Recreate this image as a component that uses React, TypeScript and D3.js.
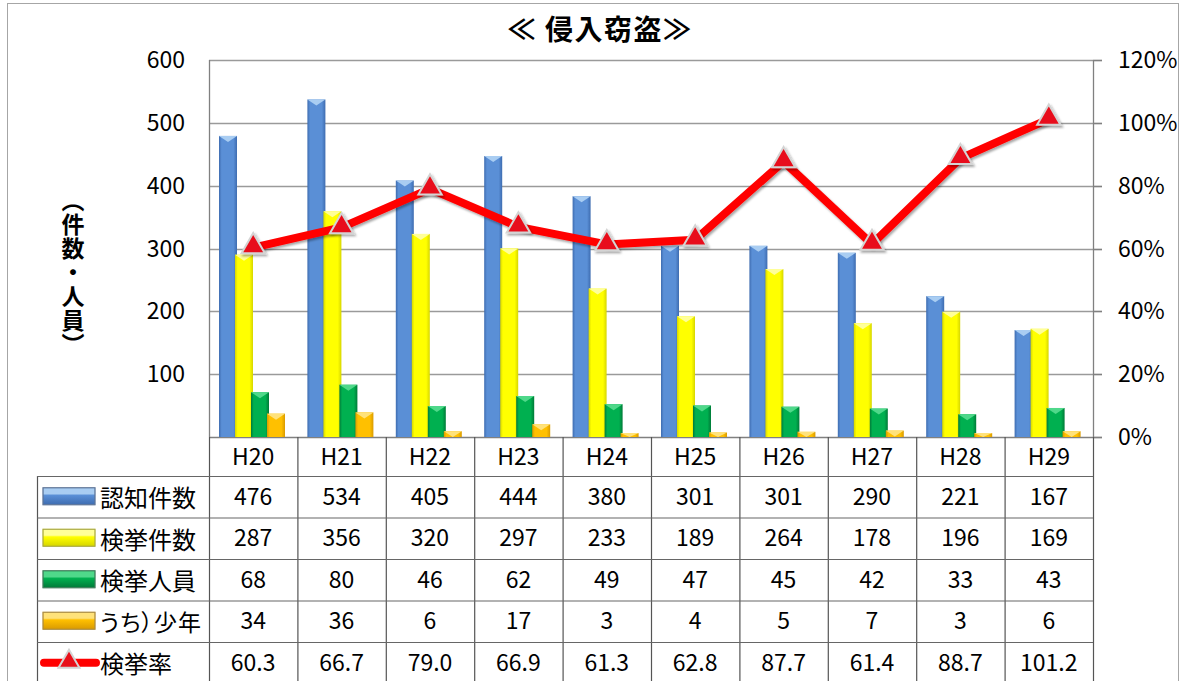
import * as d3 from "d3";

// 侵入窃盗 data
const categories = ["H20", "H21", "H22", "H23", "H24", "H25", "H26", "H27", "H28", "H29"];
const ninchi = [476, 534, 405, 444, 380, 301, 301, 290, 221, 167];
const kenkyoKensu = [287, 356, 320, 297, 233, 189, 264, 178, 196, 169];
const kenkyoJinin = [68, 80, 46, 62, 49, 47, 45, 42, 33, 43];
const shonen = [34, 36, 6, 17, 3, 4, 5, 7, 3, 6];
const kenkyoRitsu = [60.3, 66.7, 79.0, 66.9, 61.3, 62.8, 87.7, 61.4, 88.7, 101.2];
const leftTicks = [100, 200, 300, 400, 500, 600];
const rightTicks = [0, 20, 40, 60, 80, 100, 120];

const barSeries = [
  { key: "ninchi", name: "認知件数", values: ninchi, light: "#a9cdf2", base: "#5a8fd6", dark: "#3e6cb0" },
  { key: "kensu", name: "検挙件数", values: kenkyoKensu, light: "#ffff99", base: "#ffff00", dark: "#d6d600" },
  { key: "jinin", name: "検挙人員", values: kenkyoJinin, light: "#4fd88a", base: "#00b050", dark: "#007a38" },
  { key: "shonen", name: "うち）少年", values: shonen, light: "#ffe27a", base: "#ffc000", dark: "#d99a00" },
];

const W = 1184;
const H = 681;
const font = "'Noto Sans CJK JP', 'Noto Sans', sans-serif";
const dyText = -2;

export default function App() {
  const plot = { left: 209, right: 1093, top: 60, bottom: 437 };
  const x = d3.scaleBand<string>().domain(categories).range([plot.left, plot.right]);
  const xs = d3.scaleBand<string>().domain(barSeries.map(s => s.key)).range([10, 74]);
  const y = d3.scaleLinear().domain([0, 600]).range([plot.bottom, plot.top]);
  const yr = d3.scaleLinear().domain([0, 120]).range([plot.bottom, plot.top]);
  const barW = xs.bandwidth() + 2;

  const line = d3.line<number>()
    .x((_, i) => x(categories[i])! + x.bandwidth() / 2)
    .y(d => yr(d));
  const tri = d3.symbol().type(d3.symbolTriangle).size(235)();
  const triSmall = d3.symbol().type(d3.symbolTriangle).size(190)();

  const tableTop = 476;
  const rowH = 41.5;
  const legendLeft = 37;
  const rows = [...barSeries.map(s => ({ name: s.name, values: s.values.map(String) })),
    { name: "検挙率", values: kenkyoRitsu.map(v => v.toFixed(1)) }];

  return (
    <svg width={W} height={H} style={{ position: "absolute", left: 0, top: 0, background: "#fff" }} fontFamily={font}>
      <defs>
        {barSeries.map(s => (
          <linearGradient key={s.key} id={`g-${s.key}`} x1="0" x2="1" y1="0" y2="0">
            <stop offset="0%" stopColor={s.dark} />
            <stop offset="15%" stopColor={s.base} />
            <stop offset="80%" stopColor={s.base} />
            <stop offset="100%" stopColor={s.dark} />
          </linearGradient>
        ))}
        {barSeries.map(s => (
          <linearGradient key={s.key} id={`l-${s.key}`} x1="0" x2="0" y1="0" y2="1">
            <stop offset="0%" stopColor={s.light} />
            <stop offset="35%" stopColor={s.light} />
            <stop offset="45%" stopColor={s.base} />
            <stop offset="100%" stopColor={s.dark} />
          </linearGradient>
        ))}
        <filter id="shadow" x="-50%" y="-50%" width="200%" height="200%">
          <feDropShadow dx="1.5" dy="2" stdDeviation="1.2" floodColor="#000" floodOpacity="0.35" />
        </filter>
      </defs>

      {/* outer frame */}
      <rect x={7.5} y={3.5} width={1171} height={690} fill="none" stroke="#a6a6a6" />

      {/* title */}
      <text x={600} y={40} textAnchor="middle" fontSize={28} fontWeight="bold" letterSpacing={1.5}>≪ 侵入窃盗≫</text>

      {/* y-axis title */}
      <text x={73} y={273} textAnchor="middle" fontSize={23} fontWeight="bold" letterSpacing={1}
        style={{ writingMode: "vertical-rl" }}>（件数・人員）</text>

      {/* gridlines */}
      {leftTicks.map(t => (
        <line key={t} x1={plot.left} x2={plot.right + 9} y1={Math.round(y(t)) + 0.5} y2={Math.round(y(t)) + 0.5} stroke="#9a9a9a" strokeWidth={1.3} />
      ))}
      <line x1={plot.left} x2={plot.right + 9} y1={plot.bottom + 0.5} y2={plot.bottom + 0.5} stroke="#808080" strokeWidth={1.3} />
      <line x1={plot.left + 0.5} x2={plot.left + 0.5} y1={plot.top} y2={plot.bottom} stroke="#808080" strokeWidth={1.3} />
      <line x1={plot.right + 0.5} x2={plot.right + 0.5} y1={plot.top} y2={plot.bottom} stroke="#808080" strokeWidth={1.3} />
      {rightTicks.map(t => (
        <line key={t} x1={plot.right} x2={plot.right + 9} y1={Math.round(yr(t)) + 0.5} y2={Math.round(yr(t)) + 0.5} stroke="#808080" strokeWidth={1.3} />
      ))}

      {/* left axis labels */}
      {leftTicks.map(t => (
        <text key={t} x={185} y={y(t) + dyText} textAnchor="end" dominantBaseline="central" fontSize={23}>{t}</text>
      ))}
      {/* right axis labels */}
      {rightTicks.map(t => (
        <text key={t} x={1118} y={yr(t) + dyText} dominantBaseline="central" fontSize={23}>{t}%</text>
      ))}

      {/* bars */}
      {barSeries.map(s => (
        <g key={s.key}>
          {s.values.map((v, i) => {
            const bx = x(categories[i])! + xs(s.key)!;
            const top = y(v) - 2;
            const h = plot.bottom - top;
            const th = Math.min(6, h);
            return (
              <g key={i}>
                <rect x={bx} y={top} width={barW} height={h} fill={`url(#g-${s.key})`} />
                <polygon points={`${bx},${top} ${bx + barW},${top} ${bx + barW / 2},${top + th}`} fill={s.light} />
              </g>
            );
          })}
        </g>
      ))}

      {/* rate line */}
      <path d={line(kenkyoRitsu) ?? ""} fill="none" stroke="#ff0000" strokeWidth={8} strokeLinejoin="round" filter="url(#shadow)" />
      {kenkyoRitsu.map((v, i) => (
        <path key={i} d={tri ?? ""} transform={`translate(${x(categories[i])! + x.bandwidth() / 2},${yr(v) - 1})`}
          fill="#e8101a" stroke="#d4d4d4" strokeWidth={2} filter="url(#shadow)" />
      ))}

      {/* data table */}
      <g stroke="#555" strokeWidth={1.2}>
        {categories.map(c => (
          <line key={c} x1={x(c)! + 0.5} x2={x(c)! + 0.5} y1={plot.bottom} y2={H} />
        ))}
        <line x1={plot.right + 0.5} x2={plot.right + 0.5} y1={plot.bottom} y2={H} />
        <line x1={legendLeft + 0.5} x2={legendLeft + 0.5} y1={tableTop} y2={H} />
        {rows.map((_, r) => (
          <line key={r} x1={legendLeft} x2={plot.right} y1={tableTop + r * rowH + 0.5} y2={tableTop + r * rowH + 0.5} stroke="#666" />
        ))}
      </g>
      {categories.map(c => (
        <text key={c} x={x(c)! + x.bandwidth() / 2} y={(plot.bottom + tableTop) / 2 + dyText} textAnchor="middle" dominantBaseline="central" fontSize={23}>{c}</text>
      ))}
      {rows.map((row, r) => {
        const cy = tableTop + r * rowH + rowH / 2;
        const isShonen = row.name === "うち）少年";
        return (
          <g key={row.name}>
            {row.values.map((v, i) => (
              <text key={i} x={x(categories[i])! + x.bandwidth() / 2} y={cy + dyText} textAnchor="middle" dominantBaseline="central" fontSize={23}>{v}</text>
            ))}
            <text x={100} y={cy} dominantBaseline="central" fontSize={isShonen ? 23 : 24}
              style={isShonen ? { fontFeatureSettings: "'palt'", letterSpacing: "1px" } : undefined}>{row.name}</text>
          </g>
        );
      })}

      {/* legend keys */}
      {barSeries.map((s, r) => {
        const cy = tableTop + r * rowH + rowH / 2;
        return (
          <g key={s.key}>
            <rect x={43} y={cy - 9} width={52} height={17} fill={`url(#l-${s.key})`} stroke={s.dark} strokeWidth={1} />
            <rect x={43} y={cy - 9} width={52} height={17} fill="none" stroke="#7f7f7f" strokeWidth={1} opacity={0.6} />
          </g>
        );
      })}
      {(() => {
        const cy = tableTop + 4 * rowH + rowH / 2;
        return (
          <g>
            <line x1={44} x2={96} y1={cy} y2={cy} stroke="#ff0000" strokeWidth={8} strokeLinecap="round" />
            <path d={triSmall ?? ""} transform={`translate(69,${cy - 1})`} fill="#e8101a" stroke="#d4d4d4" strokeWidth={2} />
          </g>
        );
      })()}
    </svg>
  );
}
